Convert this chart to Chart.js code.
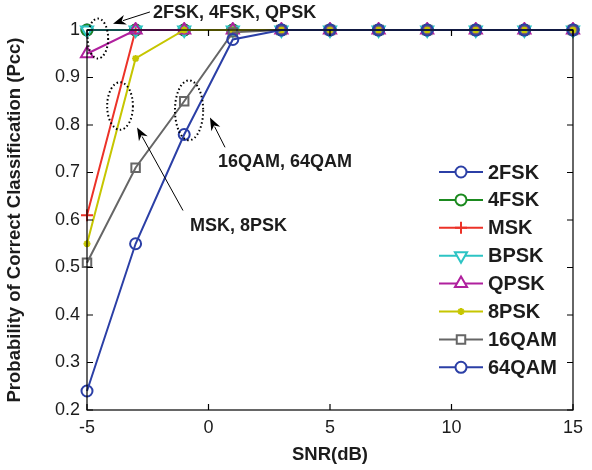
<!DOCTYPE html>
<html>
<head>
<meta charset="utf-8">
<script src="https://cdn.jsdelivr.net/npm/chart.js@4.4.9/dist/chart.umd.min.js"></script>
<style>
  html, body { margin: 0; padding: 0; background: #fff; }
  #wrap { width: 592px; height: 470px; }
</style>
</head>
<body>
<div id="wrap"><canvas id="pccChart" width="592" height="470"></canvas></div>
<script>
// SNR points (dB)
const snr = [-5, -3, -1, 1, 3, 5, 7, 9, 11, 13, 15];
const xTicks = [-5, 0, 5, 10, 15];
const yTicks = [0.2, 0.3, 0.4, 0.5, 0.6, 0.7, 0.8, 0.9, 1];

// Pcc per modulation
const pcc2FSK  = [1, 1, 1, 1, 1, 1, 1, 1, 1, 1, 1];
const pcc4FSK  = [1, 1, 1, 1, 1, 1, 1, 1, 1, 1, 1];
const pccMSK   = [0.61, 1, 1, 1, 1, 1, 1, 1, 1, 1, 1];
const pccBPSK  = [1, 1, 1, 1, 1, 1, 1, 1, 1, 1, 1];
const pccQPSK  = [0.95, 1, 1, 1, 1, 1, 1, 1, 1, 1, 1];
const pcc8PSK  = [0.55, 0.94, 1, 1, 1, 1, 1, 1, 1, 1, 1];
const pcc16QAM = [0.51, 0.71, 0.85, 0.995, 1, 1, 1, 1, 1, 1, 1];
const pcc64QAM = [0.24, 0.55, 0.78, 0.98, 1, 1, 1, 1, 1, 1, 1];

const seriesNames = ['2FSK', '4FSK', 'MSK', 'BPSK', 'QPSK', '8PSK', '16QAM', '64QAM'];
const seriesData = [pcc2FSK, pcc4FSK, pccMSK, pccBPSK, pccQPSK, pcc8PSK, pcc16QAM, pcc64QAM];

// marker styles, matlab-ish
const styles = [
    { color: '#2b3fa6', pointStyle: 'circle', radius: 5.5, rotation: 0 },
    { color: '#1b8a1f', pointStyle: 'circle', radius: 5.5, rotation: 0 },
    { color: '#ec3228', pointStyle: 'cross', radius: 6, rotation: 0 },
    { color: '#2cc4c4', pointStyle: 'triangle', radius: 7, rotation: 180 },
    { color: '#b0209e', pointStyle: 'triangle', radius: 7, rotation: 0 },
    { color: '#c6c600', pointStyle: 'star', radius: 3.5, rotation: 0 },
    { color: '#666666', pointStyle: 'rect', radius: 6, rotation: 0 },
    { color: '#2b3fa6', pointStyle: 'circle', radius: 5.5, rotation: 0 }
];

// annotation ellipses and arrows, given in data units
const ellipses = [
    { x: -4.55, y: 0.982, rx: 0.42, ry: 0.042 },
    { x: -3.64, y: 0.840, rx: 0.53, ry: 0.050 },
    { x: -0.80, y: 0.831, rx: 0.58, ry: 0.063 }
];
const arrows = [
    { x0: -2.41, y0: 1.038, x1: -3.93, y1: 1.013 },
    { x0: -1.05, y0: 0.620, x1: -2.94, y1: 0.795 },
    { x0: 0.68, y0: 0.753, x1: 0.06, y1: 0.816 }
];
const notes = [
    { x: -2.28, y: 1.036, text: '2FSK, 4FSK, QPSK' },
    { x: -0.76, y: 0.588, text: 'MSK, 8PSK' },
    { x: 0.39, y: 0.721, text: '16QAM, 64QAM' }
];

const FONT = '"Liberation Sans", Arial, sans-serif';
const INK = '#1c1c1c';

// Box, inward ticks, annotations and legend
const matlabPlugin = {
    id: 'matlabBox',
    afterDatasetsDraw(chart) {
        const ctx = chart.ctx;
        const a = chart.chartArea;
        const xs = chart.scales.x;
        const ys = chart.scales.y;
        const tl = 6;

        ctx.save();
        ctx.strokeStyle = '#000';
        ctx.lineWidth = 1.2;
        ctx.strokeRect(a.left, a.top, a.right - a.left, a.bottom - a.top);
        ctx.beginPath();
        xTicks.forEach(function(v) {
            const px = xs.getPixelForValue(v);
            ctx.moveTo(px, a.bottom); ctx.lineTo(px, a.bottom - tl);
            ctx.moveTo(px, a.top); ctx.lineTo(px, a.top + tl);
        });
        yTicks.forEach(function(v) {
            const py = ys.getPixelForValue(v);
            ctx.moveTo(a.left, py); ctx.lineTo(a.left + tl, py);
            ctx.moveTo(a.right, py); ctx.lineTo(a.right - tl, py);
        });
        ctx.stroke();

        // dotted ellipses
        ctx.setLineDash([1.5, 2.5]);
        ctx.lineWidth = 2;
        ellipses.forEach(function(e) {
            const cx = xs.getPixelForValue(e.x);
            const cy = ys.getPixelForValue(e.y);
            const rx = Math.abs(xs.getPixelForValue(e.x + e.rx) - cx);
            const ry = Math.abs(ys.getPixelForValue(e.y + e.ry) - cy);
            ctx.beginPath();
            ctx.ellipse(cx, cy, rx, ry, 0, 0, Math.PI * 2);
            ctx.stroke();
        });
        ctx.setLineDash([]);

        // arrows
        ctx.lineWidth = 1;
        ctx.strokeStyle = '#000';
        ctx.fillStyle = '#000';
        arrows.forEach(function(ar) {
            const x0 = xs.getPixelForValue(ar.x0), y0 = ys.getPixelForValue(ar.y0);
            const x1 = xs.getPixelForValue(ar.x1), y1 = ys.getPixelForValue(ar.y1);
            const ang = Math.atan2(y1 - y0, x1 - x0);
            const len = 13, wid = 5;
            ctx.beginPath();
            ctx.moveTo(x0, y0);
            ctx.lineTo(x1 - Math.cos(ang) * len * 0.8, y1 - Math.sin(ang) * len * 0.8);
            ctx.stroke();
            ctx.beginPath();
            ctx.moveTo(x1, y1);
            ctx.lineTo(x1 - Math.cos(ang) * len + Math.sin(ang) * wid, y1 - Math.sin(ang) * len - Math.cos(ang) * wid);
            ctx.lineTo(x1 - Math.cos(ang) * len * 0.7, y1 - Math.sin(ang) * len * 0.7);
            ctx.lineTo(x1 - Math.cos(ang) * len - Math.sin(ang) * wid, y1 - Math.sin(ang) * len + Math.cos(ang) * wid);
            ctx.closePath();
            ctx.fill();
        });

        ctx.font = 'bold 18px ' + FONT;
        ctx.fillStyle = INK;
        ctx.textAlign = 'left';
        ctx.textBaseline = 'middle';
        notes.forEach(function(n) {
            ctx.fillText(n.text, xs.getPixelForValue(n.x), ys.getPixelForValue(n.y));
        });

        // legend (no frame)
        const lx = 439, lw = 44, ly = 172, step = 27.9;
        ctx.font = 'bold 20px ' + FONT;
        seriesNames.forEach(function(name, i) {
            const st = styles[i];
            const y = ly + i * step;
            ctx.strokeStyle = st.color;
            ctx.lineWidth = 2;
            ctx.beginPath();
            ctx.moveTo(lx, y); ctx.lineTo(lx + lw, y);
            ctx.stroke();
            ctx.fillStyle = '#fff';
            Chart.helpers.drawPoint(ctx, {
                pointStyle: st.pointStyle,
                radius: st.radius,
                rotation: st.rotation,
                borderWidth: 2
            }, lx + lw / 2, y);
            ctx.fillStyle = INK;
            ctx.fillText(name, lx + lw + 5, y + 1);
        });
        ctx.restore();
    }
};

const datasets = seriesNames.map(function(name, i) {
    const st = styles[i];
    return {
        label: name,
        data: snr.map(function(x, j) { return { x: x, y: seriesData[i][j] }; }),
        borderColor: st.color,
        backgroundColor: 'rgba(0,0,0,0)',
        borderWidth: 2,
        pointStyle: st.pointStyle,
        pointRadius: st.radius,
        pointRotation: st.rotation,
        pointBorderWidth: 2,
        pointBorderColor: st.color,
        pointBackgroundColor: 'rgba(0,0,0,0)',
        fill: false,
        tension: 0,
        clip: 8,
        order: seriesNames.length - i
    };
});

const ctx = document.getElementById('pccChart').getContext('2d');
new Chart(ctx, {
    type: 'line',
    data: { datasets: datasets },
    options: {
        responsive: false,
        animation: false,
        events: [],
        layout: { padding: { left: 0, right: 19, top: 30, bottom: 0 } },
        plugins: {
            legend: { display: false },
            tooltip: { enabled: false }
        },
        scales: {
            x: {
                type: 'linear',
                min: -5,
                max: 15,
                afterBuildTicks: function(scale) {
                    scale.ticks = xTicks.map(function(v) { return { value: v }; });
                },
                grid: { display: false, drawTicks: false },
                border: { display: false },
                ticks: {
                    color: INK,
                    font: { family: FONT, size: 18 },
                    padding: 7
                },
                title: {
                    display: true,
                    text: 'SNR(dB)',
                    color: INK,
                    font: { family: FONT, size: 18.5, weight: 'bold' },
                    padding: { top: 2 }
                },
                afterFit: function(scale) { scale.height = 60; }
            },
            y: {
                type: 'linear',
                min: 0.2,
                max: 1,
                afterBuildTicks: function(scale) {
                    scale.ticks = yTicks.map(function(v) { return { value: v }; });
                },
                grid: { display: false, drawTicks: false },
                border: { display: false },
                ticks: {
                    color: INK,
                    font: { family: FONT, size: 18 },
                    padding: 7,
                    callback: function(v) { return String(+v.toFixed(1)); }
                },
                title: {
                    display: true,
                    text: 'Probability of Correct Classification (Pcc)',
                    color: INK,
                    font: { family: FONT, size: 18.5, weight: 'bold' },
                    padding: { bottom: 0 }
                },
                afterFit: function(scale) { scale.width = 87; }
            }
        }
    },
    plugins: [matlabPlugin]
});
</script>
</body>
</html>
